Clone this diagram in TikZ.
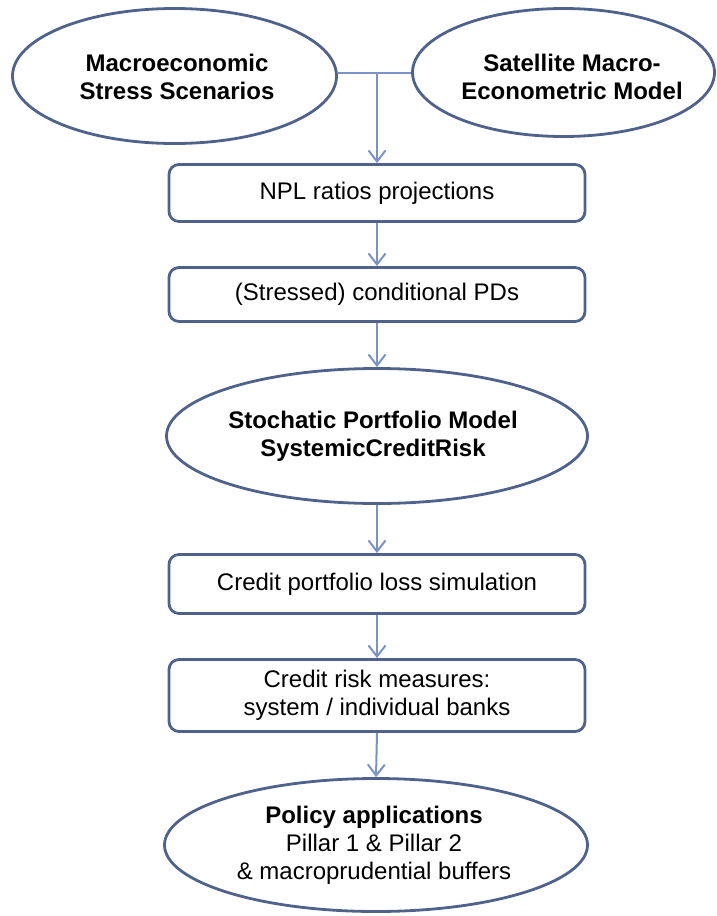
\documentclass[tikz,border=0pt]{standalone}
\usepackage{fontspec}
\setmainfont{Liberation Sans}
\usetikzlibrary{shapes.geometric,arrows.meta}
\definecolor{edgeblue}{RGB}{79,98,140}
\definecolor{arrowblue}{RGB}{122,146,199}
\begin{document}
\begin{tikzpicture}[x=1pt,y=-1pt,
  txt/.style={font=\fontsize{24}{28}\selectfont,align=center,text=black},
  oval/.style={draw=edgeblue,line width=2.8pt,ellipse,inner sep=0pt},
  stepbox/.style={draw=edgeblue,line width=2.8pt,rectangle,rounded corners=10pt,
    minimum width=416pt,inner sep=0pt,font=\fontsize{24}{28}\selectfont,align=center},
  flow/.style={draw=arrowblue,line width=2pt,-{Straight Barb[length=11pt,width=17pt]}}
]
\useasboundingbox (0,0) rectangle (717,916);

\node[oval,minimum width=324pt,minimum height=135pt] (macro) at (174.5,76) {};
\node[txt] (macrot) at (177,77) {\textbf{Macroeconomic}\\\textbf{Stress Scenarios}};
\node[oval,minimum width=302pt,minimum height=128pt] (sat) at (563.5,72.5) {};
\node[txt] (satt) at (572,77) {\textbf{Satellite Macro-}\\\textbf{Econometric Model}};

\coordinate (junc) at (377,73);

\node[stepbox,minimum height=57pt] (npl) at (377,193) {NPL ratios projections};
\node[stepbox,minimum height=54pt] (pds) at (377,294.5) {(Stressed) conditional PDs};
\node[oval,minimum width=421pt,minimum height=135pt] (model) at (377,436) {};
\node[txt] (modelt) at (373,436) {\textbf{Stochatic Portfolio Model}\\\textbf{SystemicCreditRisk}};
\node[stepbox,minimum height=59pt] (loss) at (377,584) {Credit portfolio loss simulation};
\node[stepbox,minimum height=72pt] (meas) at (377,695.5) {Credit risk measures:\\system / individual banks};
\node[oval,minimum width=423pt,minimum height=133pt] (pol) at (376,845) {};
\node[txt] (polt) at (374,845) {\textbf{Policy applications}\\Pillar 1 \& Pillar 2\\\& macroprudential buffers};

\draw[draw=arrowblue,line width=2pt] (junc -| macro.east) -- (junc -| sat.west);
\draw[flow] (junc) -- (npl.north);
\draw[flow] (npl.south) -- (pds.north);
\draw[flow] (pds.south) -- (model.north);
\draw[flow] (model.south) -- (loss.north);
\draw[flow] (loss.south) -- (meas.north);
\draw[flow] (meas.south) -- (pol.north);
\end{tikzpicture}
\end{document}
